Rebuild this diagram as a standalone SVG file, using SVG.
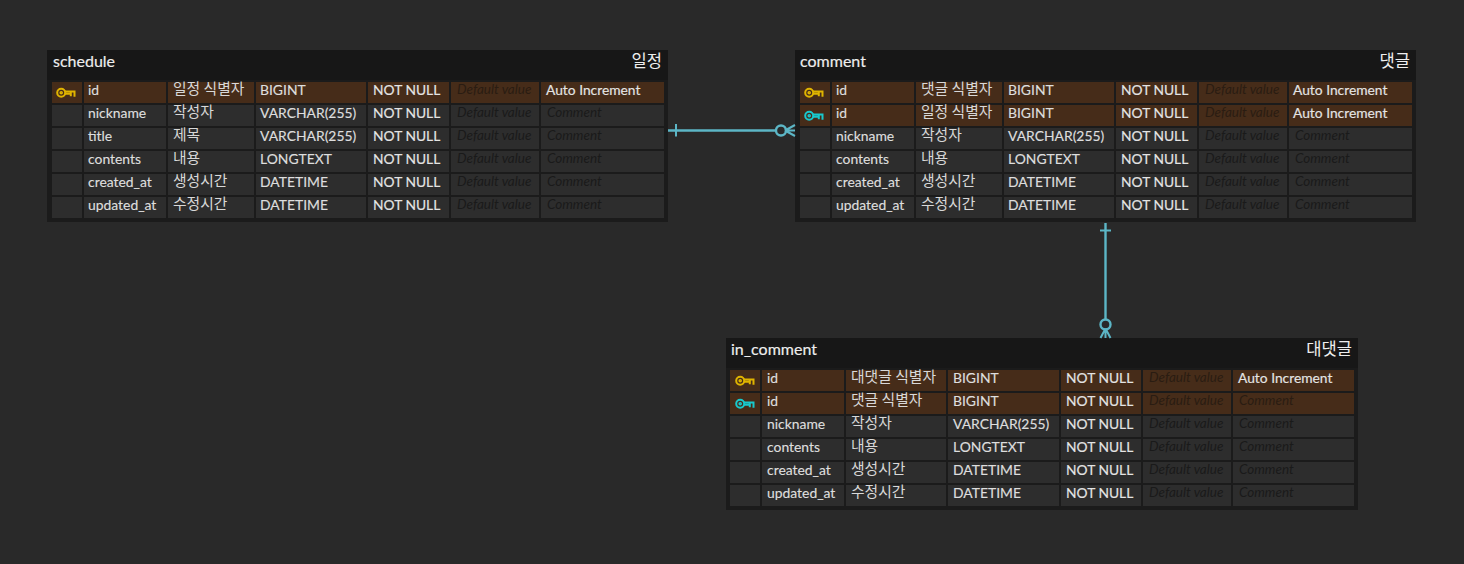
<svg xmlns="http://www.w3.org/2000/svg" width="1464" height="564" viewBox="0 0 1464 564">
<style>
.tb{fill:#1b1b1b}.hd{fill:#171717}
.c{fill:#2d2d2d}.k{fill:#462c19}
text{font-family:Lato,"Noto Sans CJK KR",sans-serif}
.t{font-size:13.900px;fill:#dedede;stroke:#dedede;stroke-width:.15}
.b{font-size:13.800px;fill:#e4e4e4;stroke:#e4e4e4;stroke-width:.15}
.ko{font-family:"Noto Sans CJK KR",sans-serif;font-size:14.800px;fill:#d8d8d8}
.h{font-size:13.500px;font-style:italic;fill:#1a1a1a}
.hk{font-size:13.500px;font-style:italic;fill:#2a1c12}
.n{font-size:16px;fill:#eeeeee;stroke:#eeeeee;stroke-width:.15}
.nk{font-family:"Noto Sans CJK KR",sans-serif;font-size:16.600px;fill:#eeeeee;text-anchor:end}
.ln{fill:none;stroke:#5cb6c6;stroke-width:2.400}
.ln2{fill:none;stroke:#5cb6c6;stroke-width:2}
.key{fill:none;stroke-width:2}
</style>
<defs>
<g id="keyIcon"><circle cx="-3.800" cy="0" r="4"/><circle cx="-3.800" cy="0" r=".8"/><path d="M0-1.200H9.500V4M5.800-1.200V3.500M0 1H5.800"/></g>
</defs>
<rect width="1464" height="564" fill="#292929"/>
<g id="schedule">
<rect class="tb" x="47" y="50" width="621" height="172"/><rect class="hd" x="47" y="50" width="621" height="30"/>
<text class="n" x="53" y="67">schedule</text><text class="nk" x="662" y="67">일정</text>
<rect class="k" x="52" y="82" width="30" height="21"/><rect class="k" x="84" y="82" width="82" height="21"/><rect class="k" x="168" y="82" width="86" height="21"/><rect class="k" x="256" y="82" width="110" height="21"/><rect class="k" x="368" y="82" width="81" height="21"/><rect class="k" x="451" y="82" width="88" height="21"/><rect class="k" x="541" y="82" width="123" height="21"/>
<use href="#keyIcon" x="65" y="92.700" class="key" stroke="#e0b400"/>
<text class="t" x="88" y="95">id</text><text class="ko" x="173" y="94">일정 식별자</text><text class="t" x="260" y="95">BIGINT</text><text class="b" x="373" y="95">NOT NULL</text><text class="hk" x="457" y="94">Default value</text><text class="b" x="546" y="95">Auto Increment</text>
<rect class="c" x="52" y="105" width="30" height="21"/><rect class="c" x="84" y="105" width="82" height="21"/><rect class="c" x="168" y="105" width="86" height="21"/><rect class="c" x="256" y="105" width="110" height="21"/><rect class="c" x="368" y="105" width="81" height="21"/><rect class="c" x="451" y="105" width="88" height="21"/><rect class="c" x="541" y="105" width="123" height="21"/>
<text class="t" x="88" y="118">nickname</text><text class="ko" x="173" y="117">작성자</text><text class="t" x="260" y="118">VARCHAR(255)</text><text class="b" x="373" y="118">NOT NULL</text><text class="h" x="457" y="117">Default value</text><text class="h" x="547" y="117">Comment</text>
<rect class="c" x="52" y="128" width="30" height="21"/><rect class="c" x="84" y="128" width="82" height="21"/><rect class="c" x="168" y="128" width="86" height="21"/><rect class="c" x="256" y="128" width="110" height="21"/><rect class="c" x="368" y="128" width="81" height="21"/><rect class="c" x="451" y="128" width="88" height="21"/><rect class="c" x="541" y="128" width="123" height="21"/>
<text class="t" x="88" y="141">title</text><text class="ko" x="173" y="140">제목</text><text class="t" x="260" y="141">VARCHAR(255)</text><text class="b" x="373" y="141">NOT NULL</text><text class="h" x="457" y="140">Default value</text><text class="h" x="547" y="140">Comment</text>
<rect class="c" x="52" y="151" width="30" height="21"/><rect class="c" x="84" y="151" width="82" height="21"/><rect class="c" x="168" y="151" width="86" height="21"/><rect class="c" x="256" y="151" width="110" height="21"/><rect class="c" x="368" y="151" width="81" height="21"/><rect class="c" x="451" y="151" width="88" height="21"/><rect class="c" x="541" y="151" width="123" height="21"/>
<text class="t" x="88" y="164">contents</text><text class="ko" x="173" y="163">내용</text><text class="t" x="260" y="164">LONGTEXT</text><text class="b" x="373" y="164">NOT NULL</text><text class="h" x="457" y="163">Default value</text><text class="h" x="547" y="163">Comment</text>
<rect class="c" x="52" y="174" width="30" height="21"/><rect class="c" x="84" y="174" width="82" height="21"/><rect class="c" x="168" y="174" width="86" height="21"/><rect class="c" x="256" y="174" width="110" height="21"/><rect class="c" x="368" y="174" width="81" height="21"/><rect class="c" x="451" y="174" width="88" height="21"/><rect class="c" x="541" y="174" width="123" height="21"/>
<text class="t" x="88" y="187">created_at</text><text class="ko" x="173" y="186">생성시간</text><text class="t" x="260" y="187">DATETIME</text><text class="b" x="373" y="187">NOT NULL</text><text class="h" x="457" y="186">Default value</text><text class="h" x="547" y="186">Comment</text>
<rect class="c" x="52" y="197" width="30" height="21"/><rect class="c" x="84" y="197" width="82" height="21"/><rect class="c" x="168" y="197" width="86" height="21"/><rect class="c" x="256" y="197" width="110" height="21"/><rect class="c" x="368" y="197" width="81" height="21"/><rect class="c" x="451" y="197" width="88" height="21"/><rect class="c" x="541" y="197" width="123" height="21"/>
<text class="t" x="88" y="210">updated_at</text><text class="ko" x="173" y="209">수정시간</text><text class="t" x="260" y="210">DATETIME</text><text class="b" x="373" y="210">NOT NULL</text><text class="h" x="457" y="209">Default value</text><text class="h" x="547" y="209">Comment</text>
</g>
<g id="comment">
<rect class="tb" x="795" y="50" width="621" height="172"/><rect class="hd" x="795" y="50" width="621" height="30"/>
<text class="n" x="800" y="67">comment</text><text class="nk" x="1410" y="67">댓글</text>
<rect class="k" x="800" y="82" width="30" height="21"/><rect class="k" x="832" y="82" width="82" height="21"/><rect class="k" x="916" y="82" width="86" height="21"/><rect class="k" x="1004" y="82" width="110" height="21"/><rect class="k" x="1116" y="82" width="81" height="21"/><rect class="k" x="1199" y="82" width="88" height="21"/><rect class="k" x="1289" y="82" width="123" height="21"/>
<use href="#keyIcon" x="813" y="92.700" class="key" stroke="#e0b400"/>
<text class="t" x="836" y="95">id</text><text class="ko" x="921" y="94">댓글 식별자</text><text class="t" x="1008" y="95">BIGINT</text><text class="b" x="1121" y="95">NOT NULL</text><text class="hk" x="1205" y="94">Default value</text><text class="b" x="1293" y="95">Auto Increment</text>
<rect class="k" x="800" y="105" width="30" height="21"/><rect class="k" x="832" y="105" width="82" height="21"/><rect class="k" x="916" y="105" width="86" height="21"/><rect class="k" x="1004" y="105" width="110" height="21"/><rect class="k" x="1116" y="105" width="81" height="21"/><rect class="k" x="1199" y="105" width="88" height="21"/><rect class="k" x="1289" y="105" width="123" height="21"/>
<use href="#keyIcon" x="813" y="115.700" class="key" stroke="#18c8cc"/>
<text class="t" x="836" y="118">id</text><text class="ko" x="921" y="117">일정 식별자</text><text class="t" x="1008" y="118">BIGINT</text><text class="b" x="1121" y="118">NOT NULL</text><text class="hk" x="1205" y="117">Default value</text><text class="b" x="1293" y="118">Auto Increment</text>
<rect class="c" x="800" y="128" width="30" height="21"/><rect class="c" x="832" y="128" width="82" height="21"/><rect class="c" x="916" y="128" width="86" height="21"/><rect class="c" x="1004" y="128" width="110" height="21"/><rect class="c" x="1116" y="128" width="81" height="21"/><rect class="c" x="1199" y="128" width="88" height="21"/><rect class="c" x="1289" y="128" width="123" height="21"/>
<text class="t" x="836" y="141">nickname</text><text class="ko" x="921" y="140">작성자</text><text class="t" x="1008" y="141">VARCHAR(255)</text><text class="b" x="1121" y="141">NOT NULL</text><text class="h" x="1205" y="140">Default value</text><text class="h" x="1295" y="140">Comment</text>
<rect class="c" x="800" y="151" width="30" height="21"/><rect class="c" x="832" y="151" width="82" height="21"/><rect class="c" x="916" y="151" width="86" height="21"/><rect class="c" x="1004" y="151" width="110" height="21"/><rect class="c" x="1116" y="151" width="81" height="21"/><rect class="c" x="1199" y="151" width="88" height="21"/><rect class="c" x="1289" y="151" width="123" height="21"/>
<text class="t" x="836" y="164">contents</text><text class="ko" x="921" y="163">내용</text><text class="t" x="1008" y="164">LONGTEXT</text><text class="b" x="1121" y="164">NOT NULL</text><text class="h" x="1205" y="163">Default value</text><text class="h" x="1295" y="163">Comment</text>
<rect class="c" x="800" y="174" width="30" height="21"/><rect class="c" x="832" y="174" width="82" height="21"/><rect class="c" x="916" y="174" width="86" height="21"/><rect class="c" x="1004" y="174" width="110" height="21"/><rect class="c" x="1116" y="174" width="81" height="21"/><rect class="c" x="1199" y="174" width="88" height="21"/><rect class="c" x="1289" y="174" width="123" height="21"/>
<text class="t" x="836" y="187">created_at</text><text class="ko" x="921" y="186">생성시간</text><text class="t" x="1008" y="187">DATETIME</text><text class="b" x="1121" y="187">NOT NULL</text><text class="h" x="1205" y="186">Default value</text><text class="h" x="1295" y="186">Comment</text>
<rect class="c" x="800" y="197" width="30" height="21"/><rect class="c" x="832" y="197" width="82" height="21"/><rect class="c" x="916" y="197" width="86" height="21"/><rect class="c" x="1004" y="197" width="110" height="21"/><rect class="c" x="1116" y="197" width="81" height="21"/><rect class="c" x="1199" y="197" width="88" height="21"/><rect class="c" x="1289" y="197" width="123" height="21"/>
<text class="t" x="836" y="210">updated_at</text><text class="ko" x="921" y="209">수정시간</text><text class="t" x="1008" y="210">DATETIME</text><text class="b" x="1121" y="210">NOT NULL</text><text class="h" x="1205" y="209">Default value</text><text class="h" x="1295" y="209">Comment</text>
</g>
<g id="in_comment">
<rect class="tb" x="726" y="338" width="632" height="172"/><rect class="hd" x="726" y="338" width="632" height="30"/>
<text class="n" x="731" y="355">in_comment</text><text class="nk" x="1352" y="355">대댓글</text>
<rect class="k" x="730" y="370" width="30" height="21"/><rect class="k" x="762" y="370" width="82" height="21"/><rect class="k" x="846" y="370" width="100" height="21"/><rect class="k" x="948" y="370" width="111" height="21"/><rect class="k" x="1061" y="370" width="80" height="21"/><rect class="k" x="1143" y="370" width="88" height="21"/><rect class="k" x="1233" y="370" width="121" height="21"/>
<use href="#keyIcon" x="744" y="380.700" class="key" stroke="#e0b400"/>
<text class="t" x="767" y="383">id</text><text class="ko" x="851" y="382">대댓글 식별자</text><text class="t" x="953" y="383">BIGINT</text><text class="b" x="1066" y="383">NOT NULL</text><text class="hk" x="1149" y="382">Default value</text><text class="b" x="1238" y="383">Auto Increment</text>
<rect class="k" x="730" y="393" width="30" height="21"/><rect class="k" x="762" y="393" width="82" height="21"/><rect class="k" x="846" y="393" width="100" height="21"/><rect class="k" x="948" y="393" width="111" height="21"/><rect class="k" x="1061" y="393" width="80" height="21"/><rect class="k" x="1143" y="393" width="88" height="21"/><rect class="k" x="1233" y="393" width="121" height="21"/>
<use href="#keyIcon" x="744" y="403.700" class="key" stroke="#18c8cc"/>
<text class="t" x="767" y="406">id</text><text class="ko" x="851" y="405">댓글 식별자</text><text class="t" x="953" y="406">BIGINT</text><text class="b" x="1066" y="406">NOT NULL</text><text class="hk" x="1149" y="405">Default value</text><text class="hk" x="1239" y="405">Comment</text>
<rect class="c" x="730" y="416" width="30" height="21"/><rect class="c" x="762" y="416" width="82" height="21"/><rect class="c" x="846" y="416" width="100" height="21"/><rect class="c" x="948" y="416" width="111" height="21"/><rect class="c" x="1061" y="416" width="80" height="21"/><rect class="c" x="1143" y="416" width="88" height="21"/><rect class="c" x="1233" y="416" width="121" height="21"/>
<text class="t" x="767" y="429">nickname</text><text class="ko" x="851" y="428">작성자</text><text class="t" x="953" y="429">VARCHAR(255)</text><text class="b" x="1066" y="429">NOT NULL</text><text class="h" x="1149" y="428">Default value</text><text class="h" x="1239" y="428">Comment</text>
<rect class="c" x="730" y="439" width="30" height="21"/><rect class="c" x="762" y="439" width="82" height="21"/><rect class="c" x="846" y="439" width="100" height="21"/><rect class="c" x="948" y="439" width="111" height="21"/><rect class="c" x="1061" y="439" width="80" height="21"/><rect class="c" x="1143" y="439" width="88" height="21"/><rect class="c" x="1233" y="439" width="121" height="21"/>
<text class="t" x="767" y="452">contents</text><text class="ko" x="851" y="451">내용</text><text class="t" x="953" y="452">LONGTEXT</text><text class="b" x="1066" y="452">NOT NULL</text><text class="h" x="1149" y="451">Default value</text><text class="h" x="1239" y="451">Comment</text>
<rect class="c" x="730" y="462" width="30" height="21"/><rect class="c" x="762" y="462" width="82" height="21"/><rect class="c" x="846" y="462" width="100" height="21"/><rect class="c" x="948" y="462" width="111" height="21"/><rect class="c" x="1061" y="462" width="80" height="21"/><rect class="c" x="1143" y="462" width="88" height="21"/><rect class="c" x="1233" y="462" width="121" height="21"/>
<text class="t" x="767" y="475">created_at</text><text class="ko" x="851" y="474">생성시간</text><text class="t" x="953" y="475">DATETIME</text><text class="b" x="1066" y="475">NOT NULL</text><text class="h" x="1149" y="474">Default value</text><text class="h" x="1239" y="474">Comment</text>
<rect class="c" x="730" y="485" width="30" height="21"/><rect class="c" x="762" y="485" width="82" height="21"/><rect class="c" x="846" y="485" width="100" height="21"/><rect class="c" x="948" y="485" width="111" height="21"/><rect class="c" x="1061" y="485" width="80" height="21"/><rect class="c" x="1143" y="485" width="88" height="21"/><rect class="c" x="1233" y="485" width="121" height="21"/>
<text class="t" x="767" y="498">updated_at</text><text class="ko" x="851" y="497">수정시간</text><text class="t" x="953" y="498">DATETIME</text><text class="b" x="1066" y="498">NOT NULL</text><text class="h" x="1149" y="497">Default value</text><text class="h" x="1239" y="497">Comment</text>
</g>
<g id="connectors">
<path class="ln" d="M668 130.500H776"/><path class="ln2" d="M676 124V136.500"/>
<circle class="ln" cx="781" cy="130.500" r="5"/><path class="ln2" d="M785 130.500L795 125M785 130.500H795M785 130.500L795 136"/>
<path class="ln" d="M1105.500 223V319"/><path class="ln2" d="M1100 230.500H1111"/>
<circle class="ln" cx="1105.500" cy="324.500" r="5"/><path class="ln2" d="M1105.500 328.500L1100.500 338M1105.500 328.500V338M1105.500 328.500L1110.500 338"/>
</g>
</svg>
